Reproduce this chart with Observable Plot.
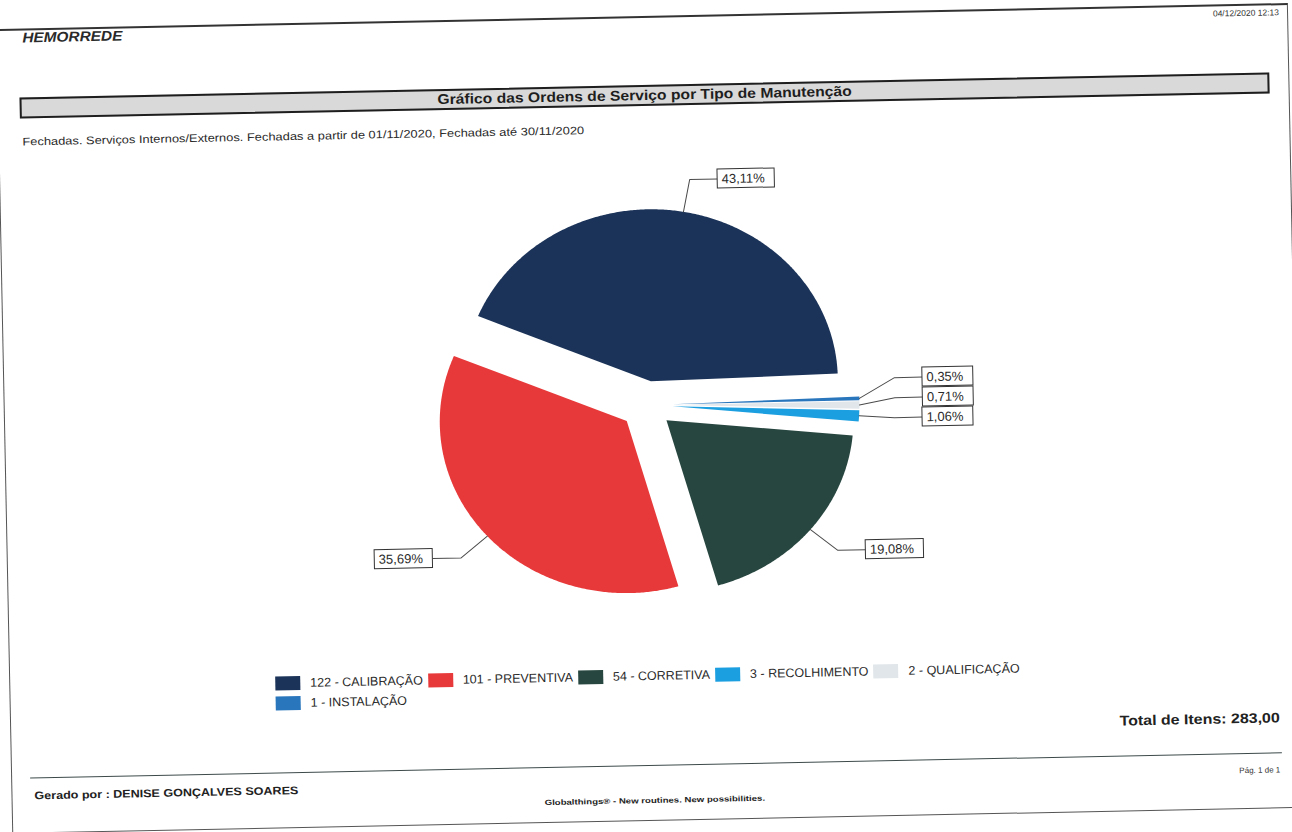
<!DOCTYPE html>
<html>
<head>
<meta charset="utf-8">
<script src="https://cdn.jsdelivr.net/npm/d3@7"></script>
<script src="https://cdn.jsdelivr.net/npm/@observablehq/plot@0.6"></script>
<style>
html,body{margin:0;padding:0;background:#fff;overflow:hidden;}
body{width:1292px;height:832px;position:relative;font-family:"Liberation Sans",Arial,sans-serif;color:#222;}
#page{position:absolute;left:0;top:0;width:1292px;height:832px;transform:rotate(-1.15deg);transform-origin:646px 416px;}
.abs{position:absolute;white-space:nowrap;}
.sx{display:inline-block;}
#frame{left:4px;top:16px;width:1292px;height:805px;box-sizing:border-box;border:1px solid #555;border-top:2px solid #333;}
#org{left:30px;top:17px;font-size:14px;font-weight:bold;font-style:italic;color:#2a2a2a;}
#org .sx{transform:scaleX(1.1);transform-origin:left center;}
#date{right:5px;top:20px;font-size:8.5px;color:#333;}
#titlebar{left:26px;top:85px;width:1250px;height:21px;box-sizing:border-box;border:2.5px solid #1e1e1e;background:#d9d9d9;text-align:center;font-weight:bold;font-size:14px;line-height:16px;color:#1e1e1e;}
#titlebar .sx{transform:scaleX(1.12);transform-origin:center center;}
#subtitle{left:28px;top:123px;font-size:11px;color:#2a2a2a;}
#subtitle .sx{transform:scaleX(1.17);transform-origin:left center;}
#legend{left:270px;top:669px;width:760px;display:flex;flex-wrap:wrap;row-gap:6px;font-size:12.5px;color:#2a2a2a;}
.item{display:flex;align-items:center;margin-right:5px;height:14px;}
.sw{width:25px;height:14px;margin-right:10px;}
#total{right:18px;top:722px;font-size:14px;font-weight:bold;color:#222;}
#total .sx{transform:scaleX(1.14);transform-origin:right center;}
#footline{left:23px;top:765px;width:1252px;height:0;border-top:1.5px solid #3d4a4a;}
#gerado{left:27px;top:777px;font-size:11px;font-weight:bold;color:#222;}
#gerado .sx{transform:scaleX(1.14);transform-origin:left center;}
#pag{right:19px;top:778px;font-size:8px;color:#333;}
#global{left:0;width:1294px;text-align:center;top:796px;font-size:7.5px;font-weight:bold;color:#222;}
#global .sx{transform:scaleX(1.28);transform-origin:center center;}
#chart{left:246px;top:150px;}
</style>
</head>
<body>
<div id="page">
  <div class="abs" id="frame"></div>
  <div class="abs" id="org"><span class="sx">HEMORREDE</span></div>
  <div class="abs" id="date">04/12/2020 12:13</div>
  <div class="abs" id="titlebar"><span class="sx">Gráfico das Ordens de Serviço por Tipo de Manutenção</span></div>
  <div class="abs" id="subtitle"><span class="sx">Fechadas. Serviços Internos/Externos. Fechadas a partir de 01/11/2020, Fechadas até 30/11/2020</span></div>
  <div class="abs" id="chart"></div>
  <div class="abs" id="legend"></div>
  <div class="abs" id="total"><span class="sx" id="totaltext"></span></div>
  <div class="abs" id="footline"></div>
  <div class="abs" id="gerado"><span class="sx">Gerado por : DENISE GONÇALVES SOARES</span></div>
  <div class="abs" id="pag">Pág. 1 de 1</div>
  <div class="abs" id="global"><span class="sx">Globalthings® - New routines. New possibilities.</span></div>
</div>
<script>
// ---- data ----
const categories = ["CALIBRAÇÃO", "PREVENTIVA", "CORRETIVA", "RECOLHIMENTO", "QUALIFICAÇÃO", "INSTALAÇÃO"];
const counts = [122, 101, 54, 3, 2, 1];
const colors = ["#1b3358", "#e8393a", "#27463f", "#1c9fe0", "#e1e6ea", "#2a76bd"];

// ---- geometry ----
const total = d3.sum(counts);
const fmt = v => v.toFixed(2).replace(".", ",");
const RX = 187, RY = 172, W = 800, H = 510, CX = 400, CY = 254.5;
const startAngle = 1.3 * Math.PI / 180;
const explode = 0.14;
const cum = [0, ...d3.cumsum(counts.map(v => v / total))];

const slices = categories.map((c, i) => {
  const a0 = startAngle + cum[i] * 2 * Math.PI;
  const a1 = startAngle + cum[i + 1] * 2 * Math.PI;
  const m = (a0 + a1) / 2;
  return {c, i, a0, a1, m, ox: explode * Math.cos(m), oy: explode * Math.sin(m),
          pct: fmt(counts[i] / total * 100) + "%"};
});

const piePts = [];
for (const s of slices) {
  piePts.push({k: s.c, x: s.ox, y: s.oy});
  const n = Math.max(2, Math.ceil((s.a1 - s.a0) / (Math.PI / 360)));
  for (let j = 0; j <= n; j++) {
    const a = s.a0 + (s.a1 - s.a0) * j / n;
    piePts.push({k: s.c, x: s.ox + Math.cos(a), y: s.oy + Math.sin(a)});
  }
  piePts.push({k: s.c, x: s.ox, y: s.oy});
}

// label text measure
const LFONT = 13;
const ctx = document.createElement("canvas").getContext("2d");
ctx.font = LFONT + "px 'Liberation Sans', Arial, sans-serif";

const elbowR = 1.19, leg = 28 / RX, bh = 19 / RY, spacing = 20 / RY;
const labels = slices.map(s => {
  const px = s.ox + Math.cos(s.m), py = s.oy + Math.sin(s.m);
  const ex = s.ox + elbowR * Math.cos(s.m), ey = s.oy + elbowR * Math.sin(s.m);
  return {c: s.c, text: s.pct, px, py, ex, ly: ey, right: Math.cos(s.m) >= 0};
});
for (const side of [true, false]) {
  const group = labels.filter(l => l.right === side).sort((a, b) => a.ly - b.ly);
  for (let j = 1; j < group.length; j++) {
    if (group[j].ly < group[j - 1].ly + spacing) group[j].ly = group[j - 1].ly + spacing;
  }
}
const leaderPts = [];
const boxes = [];
for (const l of labels) {
  const dir = l.right ? 1 : -1;
  const bx = l.ex + dir * leg;
  leaderPts.push({k: l.c, x: l.px, y: l.py}, {k: l.c, x: l.ex, y: l.ly}, {k: l.c, x: bx, y: l.ly});
  const bw = (ctx.measureText(l.text).width + 14) / RX;
  const x1 = l.right ? bx : bx - bw;
  boxes.push({text: l.text, x1, x2: x1 + bw, y1: l.ly - bh / 2, y2: l.ly + bh / 2, xt: x1 + 4 / RX, yc: l.ly});
}

const chart = Plot.plot({
  width: W, height: H,
  marginTop: 0, marginRight: 0, marginBottom: 0, marginLeft: 0,
  x: {domain: [-CX / RX, (W - CX) / RX], range: [0, W], axis: null},
  y: {domain: [-(H - CY) / RY, CY / RY], range: [H, 0], axis: null},
  color: {domain: categories, range: colors},
  style: {fontFamily: "'Liberation Sans', Arial, sans-serif", background: "transparent", overflow: "visible"},
  marks: [
    Plot.line(piePts, {x: "x", y: "y", z: "k", fill: "k", stroke: null, curve: "linear"}),
    Plot.line(leaderPts, {x: "x", y: "y", z: "k", stroke: "#4a4a4a", strokeWidth: 1}),
    Plot.rect(boxes, {x1: "x1", x2: "x2", y1: "y1", y2: "y2", fill: "white", stroke: "#333", strokeWidth: 1}),
    Plot.text(boxes, {x: "xt", y: "yc", text: "text", textAnchor: "start", fontSize: LFONT, fill: "#2a2a2a"})
  ]
});
document.getElementById("chart").appendChild(chart);

// legend
const legend = document.getElementById("legend");
categories.forEach((c, i) => {
  const item = document.createElement("div");
  item.className = "item";
  const sw = document.createElement("div");
  sw.className = "sw";
  sw.style.background = colors[i];
  const t = document.createElement("span");
  t.textContent = counts[i] + " - " + c;
  item.appendChild(sw);
  item.appendChild(t);
  legend.appendChild(item);
});
document.getElementById("totaltext").textContent = "Total de Itens: " + fmt(total);
</script>
</body>
</html>
